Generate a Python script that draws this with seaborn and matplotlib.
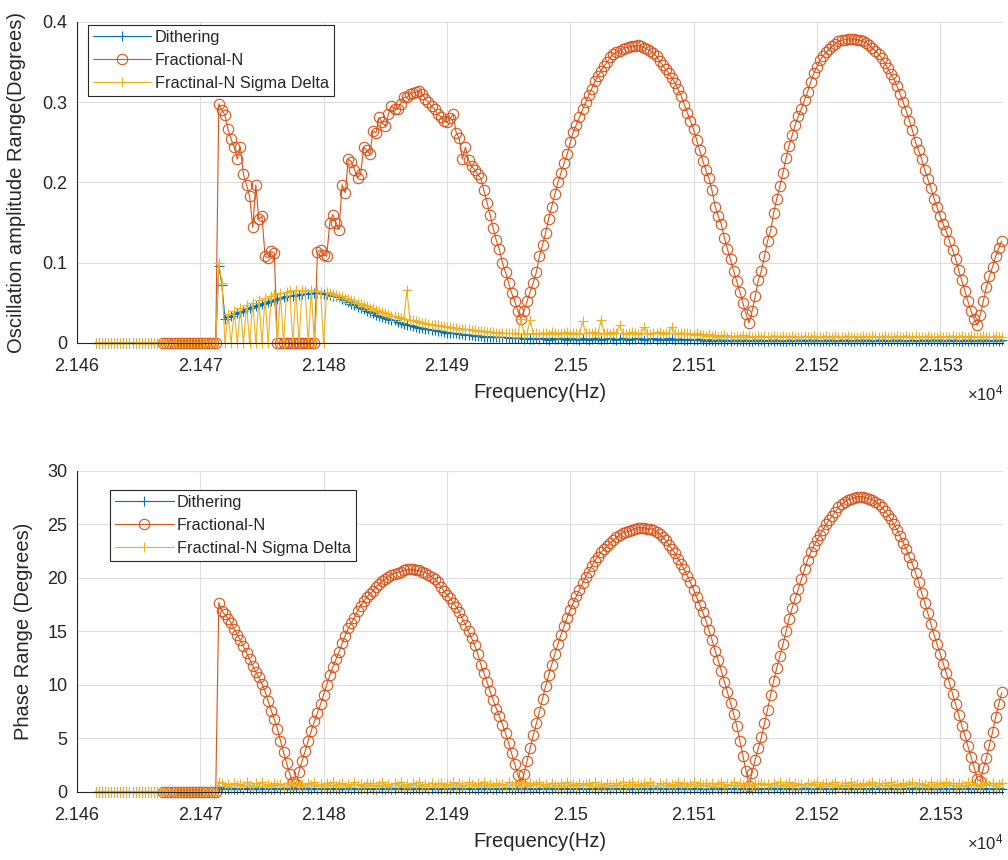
import numpy as np
import matplotlib
matplotlib.use("Agg")
import matplotlib.pyplot as plt
from matplotlib.ticker import FuncFormatter, MultipleLocator
import seaborn as sns

sns.set_style("white")
plt.rcParams["font.family"] = ["Liberation Sans", "DejaVu Sans"]
plt.rcParams["mathtext.fontset"] = "custom"
plt.rcParams["mathtext.rm"] = "Liberation Sans"
plt.rcParams["mathtext.it"] = "Liberation Sans:italic"

# ---------------------------------------------------------------- data
# Frequency sweep: 0.25 Hz steps starting at 21461.5 Hz.
SWEEP_START = 21461.5
SWEEP_STEP = 0.25
FRACN_START = 21467.0          # Fractional-N sweep starts later

labels = ["Dithering", "Fractional-N", "Fractinal-N Sigma Delta"]

# Oscillation amplitude range (degrees)
dither_amp = [0.0] * 40 + [
    0.096, 0.072, 0.030, 0.032, 0.034, 0.036, 0.037, 0.039,
    0.040, 0.042, 0.043, 0.045, 0.046, 0.047, 0.049, 0.050,
    0.051, 0.052, 0.053, 0.055, 0.056, 0.057, 0.058, 0.058,
    0.059, 0.060, 0.060, 0.061, 0.061, 0.061, 0.062, 0.062,
    0.062, 0.062, 0.061, 0.061, 0.060, 0.059, 0.058, 0.057,
    0.055, 0.053, 0.051, 0.049, 0.047, 0.045, 0.043, 0.042,
    0.040, 0.038, 0.037, 0.035, 0.034, 0.032, 0.031, 0.030,
    0.029, 0.028, 0.026, 0.025, 0.024, 0.023, 0.022, 0.021,
    0.020, 0.019, 0.019, 0.018, 0.017, 0.016, 0.016, 0.015,
    0.015, 0.014, 0.013, 0.013, 0.012, 0.012, 0.011, 0.011,
    0.010, 0.010, 0.010, 0.009, 0.009, 0.009, 0.008, 0.008,
    0.008, 0.008, 0.007, 0.007, 0.007, 0.007, 0.006, 0.006,
    0.006, 0.006, 0.006, 0.005, 0.006, 0.005, 0.005, 0.006,
    0.005, 0.006, 0.005, 0.004, 0.006, 0.005, 0.005, 0.006,
    0.005, 0.004, 0.006, 0.005, 0.005, 0.004, 0.006, 0.005,
    0.004, 0.005, 0.006, 0.005, 0.004, 0.005, 0.005, 0.006,
    0.005, 0.004, 0.005, 0.006, 0.005, 0.004, 0.005, 0.005,
    0.006, 0.005, 0.004, 0.005, 0.005, 0.006, 0.004, 0.005,
    0.005, 0.004, 0.006, 0.005, 0.004, 0.005, 0.005, 0.004,
    0.004, 0.005, 0.004, 0.004, 0.005, 0.004, 0.003, 0.004,
    0.004, 0.003, 0.004, 0.004, 0.003, 0.004, 0.003, 0.004,
    0.003, 0.004, 0.003, 0.004, 0.003, 0.003, 0.004, 0.003,
    0.004, 0.003, 0.003, 0.004, 0.003, 0.004, 0.003, 0.003,
    0.003, 0.004, 0.003, 0.003, 0.004, 0.003, 0.004, 0.003,
    0.004, 0.003, 0.004, 0.003, 0.003, 0.004, 0.003, 0.004,
    0.003, 0.003, 0.004, 0.003, 0.004, 0.003, 0.003, 0.004,
    0.003, 0.004, 0.003, 0.004, 0.003, 0.003, 0.004, 0.003,
    0.004, 0.003, 0.003, 0.004, 0.003, 0.004, 0.003, 0.003,
    0.003, 0.004, 0.003, 0.003, 0.004, 0.003, 0.004, 0.003,
    0.004, 0.003, 0.004, 0.003, 0.003, 0.004, 0.003, 0.004,
    0.003, 0.003, 0.004, 0.003, 0.004, 0.003, 0.003, 0.004,
    0.003, 0.004, 0.003, 0.003, 0.004, 0.003, 0.004,
]

fracn_amp = [0.0] * 18 + [
    0.298, 0.290, 0.284, 0.266, 0.254, 0.244, 0.229, 0.244,
    0.210, 0.197, 0.183, 0.144, 0.197, 0.154, 0.158, 0.108,
    0.106, 0.114, 0.112,
    0.0, 0.0, 0.0, 0.0, 0.0, 0.0, 0.0, 0.0, 0.0, 0.0, 0.0, 0.0, 0.0,
    0.113, 0.116, 0.110, 0.108, 0.150, 0.160, 0.150, 0.141,
    0.197, 0.187, 0.229, 0.226, 0.216, 0.206, 0.210, 0.244,
    0.240, 0.235, 0.264, 0.262, 0.281, 0.275, 0.270, 0.285,
    0.295, 0.292, 0.291, 0.298, 0.306, 0.306, 0.310, 0.312,
    0.313, 0.314, 0.310, 0.304, 0.300, 0.295, 0.291, 0.285,
    0.282, 0.277, 0.275, 0.280, 0.285, 0.262, 0.255, 0.229,
    0.244, 0.228, 0.220, 0.216, 0.210, 0.205, 0.190, 0.175,
    0.160, 0.143, 0.128, 0.117, 0.100, 0.088, 0.075, 0.062,
    0.052, 0.040, 0.030, 0.040, 0.052, 0.064, 0.075, 0.088,
    0.108, 0.122, 0.137, 0.155, 0.170, 0.185, 0.200, 0.212,
    0.224, 0.235, 0.250, 0.263, 0.272, 0.281, 0.291, 0.300,
    0.309, 0.317, 0.326, 0.333, 0.339, 0.345, 0.350, 0.356,
    0.360, 0.362, 0.364, 0.366, 0.368, 0.369, 0.370, 0.370,
    0.371, 0.370, 0.368, 0.366, 0.364, 0.361, 0.357, 0.351,
    0.346, 0.341, 0.336, 0.330, 0.324, 0.316, 0.308, 0.297,
    0.287, 0.276, 0.266, 0.253, 0.240, 0.227, 0.215, 0.205,
    0.190, 0.170, 0.158, 0.148, 0.131, 0.117, 0.104, 0.090,
    0.077, 0.064, 0.050, 0.036, 0.025, 0.040, 0.058, 0.078,
    0.090, 0.108, 0.127, 0.140, 0.162, 0.180, 0.195, 0.212,
    0.230, 0.246, 0.259, 0.272, 0.283, 0.292, 0.303, 0.313,
    0.325, 0.336, 0.344, 0.352, 0.358, 0.362, 0.366, 0.370,
    0.373, 0.376, 0.377, 0.378, 0.379, 0.379, 0.379, 0.378,
    0.377, 0.376, 0.374, 0.371, 0.367, 0.364, 0.360, 0.355,
    0.349, 0.342, 0.335, 0.329, 0.320, 0.310, 0.300, 0.289,
    0.277, 0.265, 0.250, 0.240, 0.229, 0.216, 0.204, 0.193,
    0.180, 0.169, 0.158, 0.148, 0.139, 0.127, 0.116, 0.105,
    0.091, 0.078, 0.065, 0.052, 0.040, 0.030, 0.022, 0.035,
    0.052, 0.070, 0.083, 0.095, 0.108, 0.118, 0.127,
]

sigma_amp = [0.0] * 40 + [
    0.100, 0.075, 0.000, 0.036, 0.000, 0.040, 0.000, 0.044,
    0.000, 0.047, 0.000, 0.050, 0.000, 0.053, 0.000, 0.056,
    0.000, 0.059, 0.061, 0.000, 0.062, 0.000, 0.064, 0.065,
    0.000, 0.066, 0.000, 0.066, 0.065, 0.000, 0.066, 0.000,
    0.065, 0.064, 0.000, 0.063, 0.062, 0.061, 0.060, 0.059,
    0.058, 0.056, 0.055, 0.053, 0.052, 0.050, 0.049, 0.047,
    0.046, 0.044, 0.043, 0.041, 0.040, 0.038, 0.037, 0.036,
    0.034, 0.033, 0.032, 0.031, 0.030, 0.066, 0.029, 0.028,
    0.027, 0.026, 0.025, 0.025, 0.024, 0.023, 0.023, 0.022,
    0.021, 0.021, 0.020, 0.020, 0.019, 0.019, 0.018, 0.018,
    0.017, 0.017, 0.016, 0.016, 0.015, 0.015, 0.015, 0.014,
    0.014, 0.014, 0.013, 0.013, 0.013, 0.012, 0.012, 0.012,
    0.012, 0.011, 0.030, 0.011, 0.012, 0.029, 0.011, 0.012,
    0.011, 0.013, 0.012, 0.011, 0.014, 0.012, 0.011, 0.013,
    0.012, 0.014, 0.011, 0.012, 0.013, 0.011, 0.027, 0.012,
    0.013, 0.012, 0.014, 0.011, 0.029, 0.012, 0.013, 0.011,
    0.014, 0.012, 0.022, 0.013, 0.011, 0.012, 0.014, 0.012,
    0.011, 0.013, 0.020, 0.012, 0.011, 0.013, 0.012, 0.014,
    0.011, 0.012, 0.013, 0.020, 0.012, 0.011, 0.013, 0.012,
    0.012, 0.011, 0.010, 0.012, 0.011, 0.010, 0.009, 0.011,
    0.009, 0.010, 0.008, 0.009, 0.010, 0.008, 0.009, 0.008,
    0.009, 0.008, 0.010, 0.008, 0.009, 0.008, 0.007, 0.009,
    0.008, 0.009, 0.007, 0.008, 0.009, 0.008, 0.007, 0.009,
    0.008, 0.007, 0.009, 0.008, 0.008, 0.007, 0.009, 0.008,
    0.007, 0.009, 0.008, 0.007, 0.008, 0.009, 0.007, 0.008,
    0.009, 0.008, 0.007, 0.008, 0.009, 0.007, 0.008, 0.008,
    0.007, 0.009, 0.008, 0.007, 0.009, 0.008, 0.008, 0.007,
    0.009, 0.008, 0.007, 0.008, 0.009, 0.007, 0.008, 0.009,
    0.008, 0.007, 0.009, 0.008, 0.007, 0.008, 0.009, 0.008,
    0.007, 0.008, 0.009, 0.007, 0.008, 0.008, 0.009, 0.007,
    0.008, 0.009, 0.007, 0.008, 0.009, 0.008, 0.007, 0.008,
    0.009, 0.008, 0.007, 0.008, 0.009, 0.008, 0.008,
]

# Phase range (degrees)
dither_phase = [0.0] * 40 + [
    0.48, 0.40, 0.31, 0.28, 0.34, 0.30, 0.27, 0.33,
    0.29, 0.35, 0.31, 0.26, 0.32, 0.36, 0.28, 0.30,
    0.34, 0.27, 0.31, 0.35, 0.29, 0.26, 0.33, 0.30,
    0.28, 0.34, 0.31, 0.27, 0.36, 0.30, 0.29, 0.33,
    0.31, 0.26, 0.35, 0.30, 0.28, 0.34, 0.31, 0.27,
    0.33, 0.29, 0.36, 0.31, 0.27, 0.32, 0.30, 0.35,
    0.28, 0.33, 0.30, 0.26, 0.34, 0.31, 0.29, 0.36,
    0.30, 0.27, 0.33, 0.35, 0.29, 0.31, 0.26, 0.32,
    0.36, 0.30, 0.28, 0.33, 0.31, 0.27, 0.35, 0.29,
    0.32, 0.34, 0.27, 0.30, 0.36, 0.28, 0.31, 0.33,
    0.29, 0.26, 0.34, 0.31, 0.30, 0.35, 0.27, 0.32,
    0.33, 0.30, 0.28, 0.36, 0.29, 0.31, 0.34, 0.27,
    0.31, 0.35, 0.29, 0.26, 0.33, 0.30, 0.28, 0.34,
    0.27, 0.32, 0.36, 0.30, 0.28, 0.33, 0.31, 0.29,
    0.35, 0.28, 0.31, 0.33, 0.27, 0.30, 0.36, 0.29,
    0.30, 0.34, 0.27, 0.31, 0.35, 0.29, 0.32, 0.26,
    0.33, 0.29, 0.35, 0.28, 0.31, 0.34, 0.27, 0.30,
    0.28, 0.36, 0.30, 0.32, 0.27, 0.33, 0.29, 0.35,
    0.31, 0.27, 0.34, 0.30, 0.36, 0.28, 0.33, 0.29,
    0.34, 0.30, 0.28, 0.35, 0.29, 0.32, 0.26, 0.31,
    0.29, 0.33, 0.31, 0.27, 0.34, 0.30, 0.35, 0.28,
    0.32, 0.28, 0.36, 0.31, 0.29, 0.27, 0.33, 0.30,
    0.27, 0.34, 0.30, 0.33, 0.28, 0.35, 0.31, 0.29,
    0.35, 0.29, 0.32, 0.28, 0.31, 0.26, 0.34, 0.30,
    0.30, 0.31, 0.27, 0.36, 0.33, 0.29, 0.28, 0.32,
    0.28, 0.35, 0.33, 0.29, 0.30, 0.34, 0.31, 0.27,
    0.33, 0.27, 0.30, 0.34, 0.28, 0.31, 0.36, 0.29,
    0.29, 0.32, 0.35, 0.27, 0.31, 0.30, 0.28, 0.34,
    0.36, 0.30, 0.28, 0.33, 0.29, 0.35, 0.31, 0.27,
    0.31, 0.28, 0.34, 0.30, 0.32, 0.27, 0.33, 0.29,
    0.27, 0.33, 0.29, 0.35, 0.30, 0.28, 0.34, 0.31,
    0.30, 0.34, 0.28, 0.31, 0.29, 0.33, 0.30,
]

fracn_phase = [0.0] * 18 + [
    17.7, 16.9, 16.6, 16.2, 15.8, 15.2, 14.7, 14.2,
    13.6, 13.0, 12.4, 11.8, 11.2, 10.7, 10.1, 9.4,
    8.5, 7.6, 6.8, 5.9, 4.8, 3.7, 2.7, 1.7,
    0.9, 0.7,
    1.9, 2.9, 3.8, 4.8, 5.7, 6.6, 7.4, 8.2,
    9.1, 10.0, 10.9, 11.7, 12.4, 13.1, 13.9, 14.6,
    15.3, 15.8, 16.3, 16.9, 17.4, 17.8, 18.2, 18.5,
    18.8, 19.2, 19.4, 19.7, 19.9, 20.1, 20.3, 20.4,
    20.5, 20.6, 20.7, 20.8, 20.8, 20.8, 20.7, 20.7,
    20.6, 20.5, 20.3, 20.1, 19.9, 19.6, 19.2, 18.8,
    18.4, 18.1, 17.7, 17.3, 16.8, 16.2, 15.6, 15.0,
    14.4, 13.7, 12.9, 11.9, 11.1, 10.3, 9.4, 8.6,
    7.8, 7.1, 6.3, 5.5, 4.6, 3.6, 2.6, 1.6,
    0.7,
    1.7, 2.9, 4.1, 5.3, 6.4, 7.5, 8.7, 9.9,
    10.9, 11.9, 12.9, 13.8, 14.7, 15.5, 16.3, 17.0,
    17.7, 18.3, 18.9, 19.5, 20.1, 20.6, 21.1, 21.6,
    22.0, 22.4, 22.7, 23.0, 23.3, 23.5, 23.8, 24.0,
    24.2, 24.3, 24.4, 24.5, 24.6, 24.7, 24.7, 24.7,
    24.6, 24.6, 24.5, 24.3, 24.1, 23.8, 23.5, 23.1,
    22.7, 22.3, 21.8, 21.3, 20.8, 20.2, 19.6, 18.9,
    18.2, 17.5, 16.8, 16.0, 15.1, 14.2, 13.2, 12.3,
    11.3, 10.3, 9.3, 8.3, 7.3, 6.2, 4.8, 3.4,
    2.0, 0.6,
    1.8, 3.0, 4.1, 5.1, 6.4, 7.7, 9.1, 10.4,
    11.6, 12.7, 13.8, 15.0, 16.2, 17.2, 18.1, 19.0,
    19.9, 20.8, 21.7, 22.4, 23.0, 23.5, 24.0, 24.5,
    25.0, 25.4, 25.8, 26.2, 26.6, 26.9, 27.1, 27.3,
    27.4, 27.5, 27.6, 27.6, 27.6, 27.5, 27.4, 27.3,
    27.1, 26.9, 26.6, 26.3, 25.9, 25.5, 25.0, 24.5,
    23.9, 23.3, 22.7, 22.0, 21.3, 20.5, 19.6, 18.6,
    17.7, 16.7, 15.7, 14.7, 13.8, 12.9, 12.0, 11.1,
    10.2, 9.2, 8.2, 7.2, 6.2, 5.3, 4.3, 3.3,
    2.3, 1.2, 1.0, 2.2, 3.2, 4.4, 5.6, 7.0,
    8.2, 9.3,
]

sigma_phase = [0.0] * 40 + [
    0.95, 0.82, 0.58, 0.74, 0.51, 0.86, 0.63, 0.77,
    0.55, 0.90, 0.68, 0.49, 0.81, 0.60, 0.93, 0.57,
    0.72, 0.53, 0.88, 0.64, 0.79, 0.50, 0.85, 0.61,
    0.76, 0.92, 0.56, 0.70, 0.48, 0.83, 0.66, 0.89,
    0.59, 0.75, 0.52, 0.87, 0.62, 0.94, 0.54, 0.71,
    0.84, 0.57, 0.78, 0.50, 0.91, 0.65, 0.73, 0.55,
    0.88, 0.61, 0.80, 0.53, 0.69, 0.95, 0.58, 0.76,
    0.51, 0.86, 0.63, 0.90, 0.56, 0.74, 0.49, 0.82,
    0.67, 0.93, 0.54, 0.79, 0.60, 0.87, 0.52, 0.72,
    0.85, 0.58, 0.77, 0.62, 0.91, 0.50, 0.81, 0.66,
    0.56, 0.89, 0.70, 0.53, 0.83, 0.64, 0.94, 0.59,
    0.78, 0.52, 0.86, 0.61, 0.73, 0.49, 0.90, 0.68,
    0.63, 0.84, 0.55, 0.92, 0.57, 0.80, 0.66, 0.75,
    0.90, 0.60, 0.74, 0.51, 0.87, 0.69, 0.54, 0.82,
    0.58, 0.95, 0.65, 0.79, 0.52, 0.88, 0.62, 0.71,
    0.83, 0.55, 0.91, 0.60, 0.76, 0.50, 0.85, 0.67,
    0.53, 0.80, 0.64, 0.93, 0.58, 0.72, 0.89, 0.56,
    0.77, 0.62, 0.86, 0.54, 0.94, 0.66, 0.51, 0.81,
    0.69, 0.88, 0.57, 0.75, 0.61, 0.90, 0.55, 0.84,
    0.60, 0.73, 0.92, 0.52, 0.80, 0.64, 0.87, 0.58,
    0.85, 0.50, 0.71, 0.89, 0.56, 0.78, 0.63, 0.93,
    0.54, 0.82, 0.66, 0.59, 0.91, 0.53, 0.76, 0.70,
    0.88, 0.61, 0.79, 0.48, 0.84, 0.67, 0.95, 0.57,
    0.72, 0.90, 0.55, 0.81, 0.62, 0.74, 0.51, 0.86,
    0.64, 0.77, 0.93, 0.58, 0.70, 0.87, 0.60, 0.79,
    0.91, 0.53, 0.68, 0.84, 0.56, 0.92, 0.65, 0.74,
    0.57, 0.83, 0.62, 0.76, 0.89, 0.52, 0.80, 0.69,
    0.86, 0.59, 0.94, 0.63, 0.71, 0.55, 0.88, 0.61,
    0.73, 0.90, 0.50, 0.82, 0.66, 0.78, 0.54, 0.92,
    0.60, 0.75, 0.87, 0.57, 0.93, 0.64, 0.81, 0.52,
    0.84, 0.68, 0.55, 0.89, 0.62, 0.79, 0.71, 0.58,
    0.77, 0.91, 0.63, 0.85, 0.56, 0.74, 0.88,
]

# ---------------------------------------------------------------- style
COLORS = ["#0072BD", "#D95319", "#EDB120"]
MARKERS = ["+", "o", "+"]
TEXT_COLOR = "#262626"
GRID_COLOR = "#DEDEDE"


def sweep(values, start):
    return start + SWEEP_STEP * np.arange(len(values))


def draw_panel(ax, series, ymax, ystep, ylabel, legend_anchor, ylabel_x):
    starts = [SWEEP_START, FRACN_START, SWEEP_START]
    for vals, start, label, color, marker in zip(series, starts, labels,
                                                 COLORS, MARKERS):
        sns.lineplot(x=sweep(vals, start), y=vals, ax=ax, color=color,
                     linewidth=0.8, marker=marker, markersize=7.5,
                     markerfacecolor="none", markeredgecolor=color,
                     markeredgewidth=0.8, estimator=None, sort=False,
                     errorbar=None, label=label, clip_on=False)

    ax.set_xlim(21460, 21535.1)
    ax.set_ylim(0, ymax)
    ax.xaxis.set_major_locator(MultipleLocator(10))
    ax.yaxis.set_major_locator(MultipleLocator(ystep))
    ax.xaxis.set_major_formatter(FuncFormatter(lambda v, p: f"{v / 1e4:g}"))
    ax.yaxis.set_major_formatter(FuncFormatter(lambda v, p: f"{v:g}"))

    ax.grid(True, color=GRID_COLOR, linewidth=0.8)
    ax.set_axisbelow(True)
    for side in ("top", "right"):
        ax.spines[side].set_visible(False)
    for side in ("left", "bottom"):
        ax.spines[side].set_color(TEXT_COLOR)
        ax.spines[side].set_linewidth(0.8)
    ax.tick_params(direction="in", length=6, width=0.8, colors=TEXT_COLOR,
                   labelsize=13)
    ax.tick_params(axis="x", pad=11)
    ax.tick_params(axis="y", pad=7)

    ax.set_xlabel("Frequency(Hz)", fontsize=14.5, color=TEXT_COLOR)
    ax.xaxis.set_label_coords(0.5, -0.125)
    ax.set_ylabel(ylabel, fontsize=14.5, color=TEXT_COLOR)
    ax.yaxis.set_label_coords(ylabel_x, 0.5)
    ax.text(1.0, -0.158, r"$\times 10^{4}$", transform=ax.transAxes,
            ha="right", va="center", fontsize=12, color=TEXT_COLOR)

    handles, names = ax.get_legend_handles_labels()
    leg = ax.legend(handles, names, loc="upper left",
                    bbox_to_anchor=legend_anchor, frameon=True,
                    fancybox=False, framealpha=1, edgecolor=TEXT_COLOR,
                    fontsize=11.7, handlelength=3.6, handletextpad=0.2,
                    borderpad=0.3, labelspacing=0.5, borderaxespad=0)
    leg.get_frame().set_linewidth(0.8)


fig = plt.figure(figsize=(10.08, 8.6), dpi=100)
ax_amp = fig.add_axes([0.0764, 0.6012, 0.9187, 0.3733])
ax_phase = fig.add_axes([0.0764, 0.0791, 0.9187, 0.3733])

draw_panel(ax_amp, [dither_amp, fracn_amp, sigma_amp], 0.4, 0.1,
           "Oscillation amplitude Range(Degrees)", (0.012, 0.991), -0.055)
draw_panel(ax_phase, [dither_phase, fracn_phase, sigma_phase], 30, 5,
           "Phase Range (Degrees)", (0.036, 0.941), -0.047)

fig.savefig("out.png", dpi=100)
